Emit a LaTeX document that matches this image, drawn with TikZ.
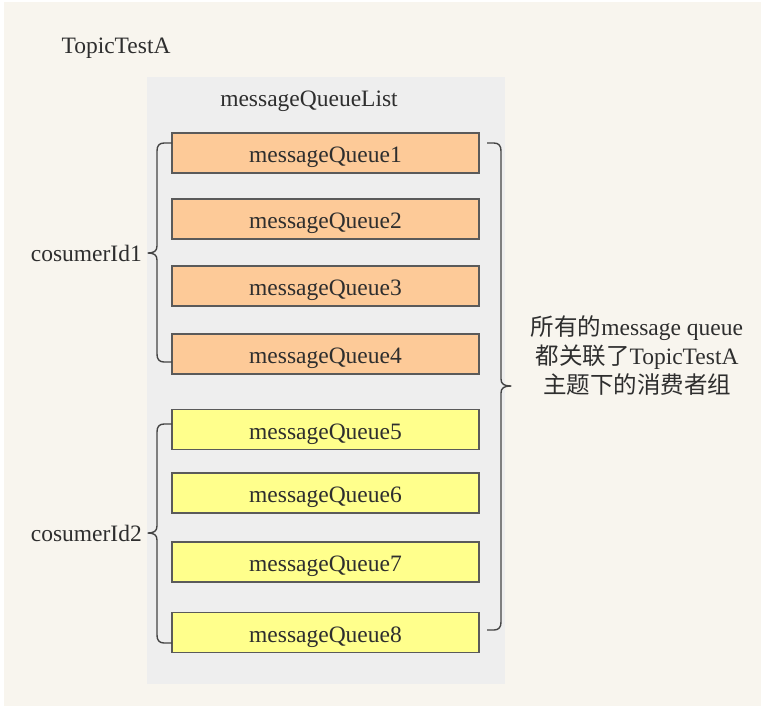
\documentclass[tikz,border=0pt]{standalone}
\usepackage{fontspec}
\setmainfont{Liberation Serif}
\newfontfamily\cjk{Noto Sans CJK SC}
\definecolor{bgbeige}{HTML}{F8F5EE}
\definecolor{panelgray}{HTML}{EEEEEE}
\definecolor{qorange}{HTML}{FDCA98}
\definecolor{qyellow}{HTML}{FFFF8C}
\definecolor{qborder}{HTML}{5A5A5A}
\definecolor{txt}{HTML}{2E2E2E}
\definecolor{bracecol}{HTML}{444444}
\tikzset{
  qbox/.style={draw=qborder, line width=1.3pt, minimum width=307pt, minimum height=40pt,
    inner sep=0pt, text height=19pt, text depth=0pt, text=txt, font=\fontsize{23.5}{27}\selectfont},
  qor/.style={qbox, fill=qorange},
  qye/.style={qbox, fill=qyellow},
  lbl/.style={text=txt, font=\fontsize{23.5}{27}\selectfont, inner sep=0pt},
  bracepath/.style={draw=bracecol, line width=1.4pt, line join=round}
}
\begin{document}
\begin{tikzpicture}[x=1pt,y=-1pt]
\useasboundingbox (0,0) rectangle (761,707);
\fill[white] (0,0) rectangle (761,707);
\fill[bgbeige] (4,2) rectangle (761,706);
\fill[panelgray] (147,77) rectangle (505,684);

\node[lbl, anchor=base] (topic) at (116,53) {TopicTestA};
\node[lbl, anchor=base] (list) at (309,106) {messageQueueList};

\node[qor] (q1) at (325.5,153) {messageQueue1};
\node[qor] (q2) at (325.5,219) {messageQueue2};
\node[qor] (q3) at (325.5,286) {messageQueue3};
\node[qor] (q4) at (325.5,354) {messageQueue4};
\node[qye] (q5) at (325.5,429.5) {messageQueue5};
\node[qye] (q6) at (325.5,493) {messageQueue6};
\node[qye] (q7) at (325.5,562) {messageQueue7};
\node[qye] (q8) at (325.5,632.5) {messageQueue8};

\node[lbl, anchor=base east] (c1) at (142,261) {cosumerId1};
\node[lbl, anchor=base east] (c2) at (142,541) {cosumerId2};

\node[text=txt, align=center, inner sep=0pt, font=\fontsize{23.5}{29}\selectfont] (note) at (637,356)
  {{\cjk 所有的}message queue\\{\cjk 都关联了}TopicTestA\\{\cjk 主题下的消费者组}};

% left brace 1
\draw[bracepath] (172,143) -- (164,143) .. controls (159,143) and (157,146) .. (157,151)
  -- (157,246) .. controls (157,251) and (154,253) .. (148,253)
  .. controls (154,253) and (157,255) .. (157,260)
  -- (157,354) .. controls (157,359) and (159,362) .. (164,362) -- (172,362);
% left brace 2
\draw[bracepath] (172,424) -- (164,424) .. controls (159,424) and (157,427) .. (157,432)
  -- (157,526) .. controls (157,531) and (154,533) .. (148,533)
  .. controls (154,533) and (157,535) .. (157,540)
  -- (157,635) .. controls (157,640) and (159,643) .. (164,643) -- (172,643);
% right brace
\draw[bracepath] (487,143) -- (494,143) .. controls (499,143) and (501,146) .. (501,151)
  -- (501,379) .. controls (501,384) and (504,386) .. (511,386)
  .. controls (504,386) and (501,388) .. (501,393)
  -- (501,622) .. controls (501,627) and (499,630) .. (494,630) -- (487,630);
\end{tikzpicture}
\end{document}
